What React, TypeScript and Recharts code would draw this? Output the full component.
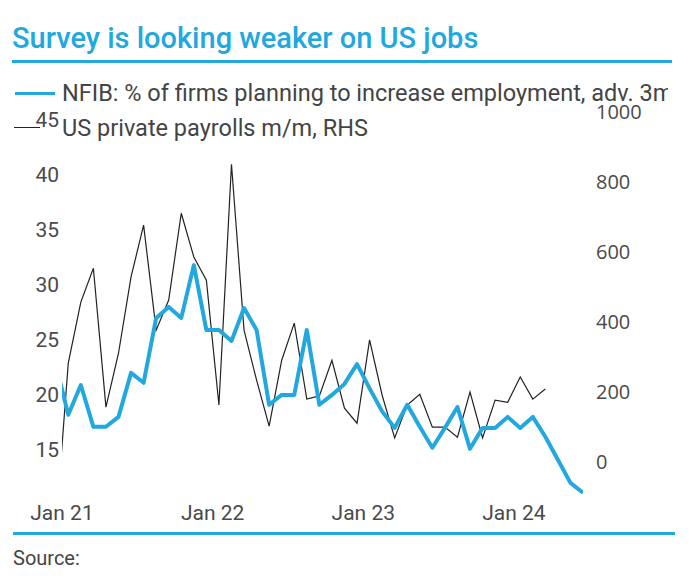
import React from "react"
import { LineChart, Line, XAxis, YAxis } from "recharts"

// months Dec 20 .. Jun 24 (idx -1 .. 41)
const months = [
  "Dec 20",
  "Jan 21", "Feb 21", "Mar 21", "Apr 21", "May 21", "Jun 21", "Jul 21", "Aug 21", "Sep 21", "Oct 21", "Nov 21", "Dec 21",
  "Jan 22", "Feb 22", "Mar 22", "Apr 22", "May 22", "Jun 22", "Jul 22", "Aug 22", "Sep 22", "Oct 22", "Nov 22", "Dec 22",
  "Jan 23", "Feb 23", "Mar 23", "Apr 23", "May 23", "Jun 23", "Jul 23", "Aug 23", "Sep 23", "Oct 23", "Nov 23", "Dec 23",
  "Jan 24", "Feb 24", "Mar 24", "Apr 24", "May 24", "Jun 24",
]

// NFIB: % of firms planning to increase employment, advanced 3m (LHS)
const nfib = [
  22.8,
  18.2, 20.9, 17.1, 17.1, 18.0, 22.0, 21.1, 27.0, 28.0, 27.0, 31.8, 25.9,
  25.9, 24.9, 27.9, 25.9, 19.1, 20.0, 20.0, 25.9, 19.1, 20.0, 21.0, 22.8,
  20.6, 18.5, 17.0, 19.1, 17.1, 15.2, 17.0, 18.9, 15.1, 17.0, 17.0, 18.0,
  17.0, 18.0, 16.2, 14.1, 12.0, 11.1,
]

// US private payrolls m/m, thousands (RHS)
const payrolls = [
  -190,
  283, 457, 554, 157, 311, 529, 677, 377, 463, 711, 586, 520,
  163, 851, 377, 234, 103, 291, 397, 180, 189, 291, 154, 111,
  349, 191, 69, 163, 194, 100, 100, 71, 200, 69, 177, 171,
  243, 180, 209, null, null, null,
]

const yearTicks = [-0.5, 11.5, 23.5, 35.5]
const yearLabels = ["Jan 21", "Jan 22", "Jan 23", "Jan 24"]
const leftTicks = [15, 20, 25, 30, 35, 40, 45]
const rightTicks = [0, 200, 400, 600, 800, 1000]

const data = months.map((m, i) => ({
  idx: i - 1,
  month: m,
  nfib: nfib[i],
  payrolls: payrolls[i],
}))

const BLUE = "#22a8df"
const TEXT = "#444"

export default function App() {
  const tickStyle = { fontSize: 21, fill: "#4a4a4a", fontFamily: "Roboto, sans-serif" }
  return (
    <div
      style={{
        position: "absolute",
        left: 0,
        top: 0,
        width: 700,
        height: 587,
        background: "#fff",
        overflow: "hidden",
        fontFamily: "Roboto, sans-serif",
      }}
    >
      <div
        style={{
          position: "absolute",
          left: 12,
          top: 19,
          fontSize: 29,
          fontWeight: 500,
          color: BLUE,
          whiteSpace: "nowrap",
          lineHeight: "38px",
        }}
      >
        Survey is looking weaker on US jobs
      </div>
      <div style={{ position: "absolute", left: 12, top: 60, width: 660, height: 3, background: BLUE }} />

      {/* legend */}
      <div style={{ position: "absolute", left: 15, top: 92, width: 40, height: 3, background: BLUE }} />
      <div
        style={{
          position: "absolute",
          left: 62,
          top: 78,
          width: 606,
          overflow: "hidden",
          whiteSpace: "nowrap",
          fontSize: 23.5,
          lineHeight: "30px",
          color: TEXT,
        }}
      >
        NFIB: % of firms planning to increase employment, adv. 3m
      </div>
      <div style={{ position: "absolute", left: 14, top: 127, width: 26, height: 1.2, background: "#222" }} />
      <div
        style={{
          position: "absolute",
          left: 62,
          top: 113,
          whiteSpace: "nowrap",
          fontSize: 23.5,
          lineHeight: "30px",
          color: TEXT,
        }}
      >
        US private payrolls m/m, RHS
      </div>

      <div style={{ position: "absolute", left: 0, top: 0 }}>
        <LineChart width={700} height={587} data={data} margin={{ top: 110, right: 57, bottom: 62, left: 0 }}>
          <XAxis
            dataKey="idx"
            type="number"
            domain={[-0.5, 41]}
            allowDataOverflow
            ticks={yearTicks}
            tickFormatter={(v: number) => yearLabels[yearTicks.indexOf(v)] ?? ""}
            axisLine={false}
            tickLine={false}
            tickSize={0}
            tickMargin={10}
            height={30}
            tick={tickStyle}
            interval={0}
          />
          <YAxis
            yAxisId="left"
            orientation="left"
            type="number"
            domain={[10.9, 45.9]}
            allowDataOverflow
            ticks={leftTicks}
            axisLine={false}
            tickLine={false}
            tickSize={0}
            tickMargin={3}
            width={62}
            tick={tickStyle}
            interval={0}
          />
          <YAxis
            yAxisId="right"
            orientation="right"
            type="number"
            domain={[-94, 1006]}
            allowDataOverflow
            ticks={rightTicks}
            axisLine={false}
            tickLine={false}
            tickSize={0}
            tickMargin={13}
            width={60}
            tick={{ fontSize: 20, fill: "#4a4a4a", fontFamily: "'Open Sans', sans-serif" }}
            interval={0}
          />
          <Line
            yAxisId="right"
            dataKey="payrolls"
            stroke="#222"
            strokeWidth={1.2}
            dot={false}
            isAnimationActive={false}
            connectNulls={false}
          />
          <Line
            yAxisId="left"
            dataKey="nfib"
            stroke={BLUE}
            strokeWidth={4}
            strokeLinejoin="round"
            dot={false}
            isAnimationActive={false}
          />
        </LineChart>
      </div>

      <div style={{ position: "absolute", left: 13, top: 532, width: 662, height: 3, background: BLUE }} />
      <div style={{ position: "absolute", left: 13, top: 545, fontSize: 20, color: TEXT, lineHeight: "26px" }}>
        Source:
      </div>
    </div>
  )
}
